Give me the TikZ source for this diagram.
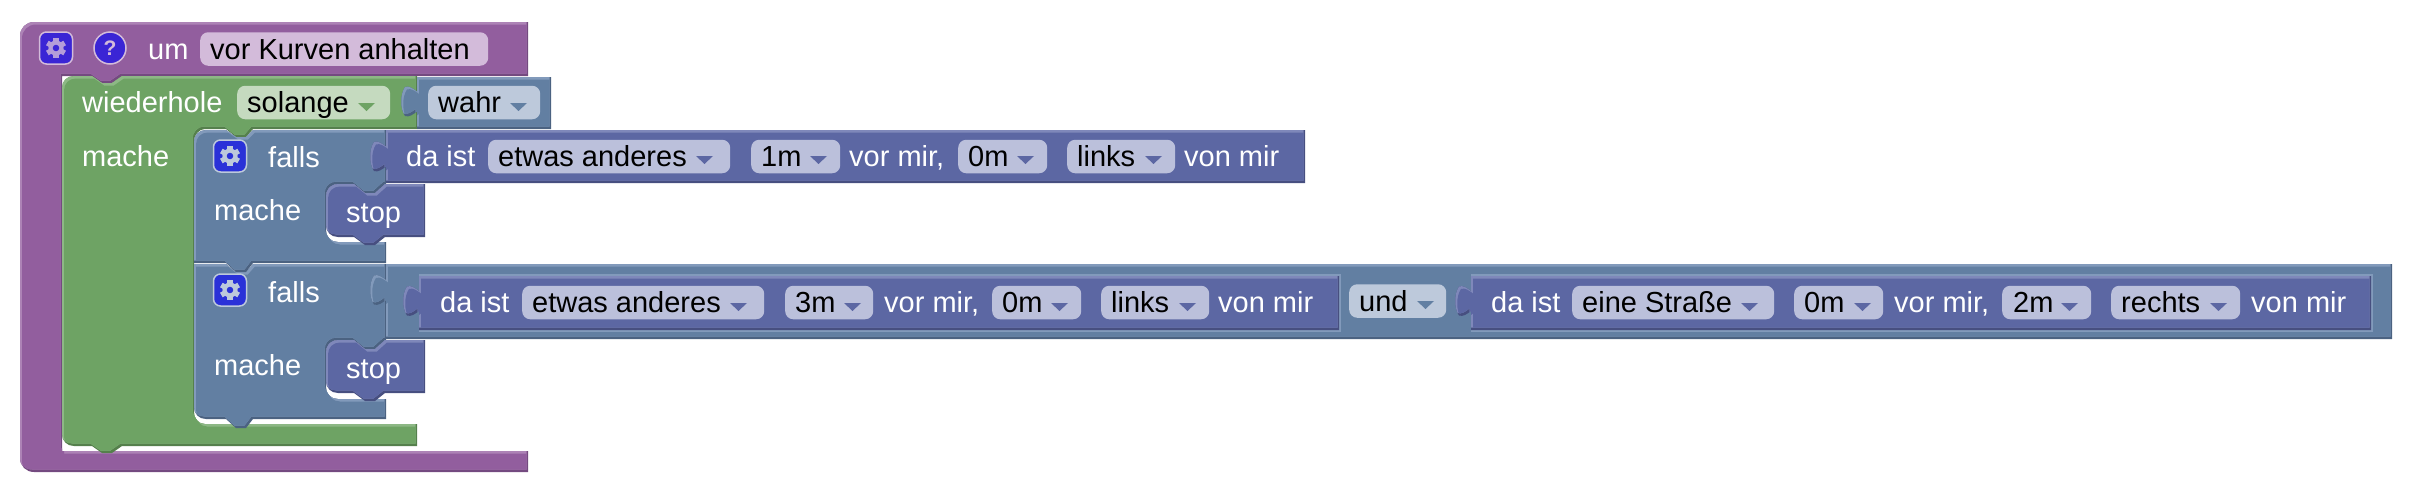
\documentclass[tikz,border=0pt]{standalone}
\usepackage{fontspec}
\setmainfont{Liberation Sans}
\usetikzlibrary{positioning}

\definecolor{purplemain}{HTML}{925E9E}
\definecolor{purplelight}{HTML}{AD83B6}
\definecolor{purpledark}{HTML}{744A80}
\definecolor{purplefield}{HTML}{D3BBDA}
\definecolor{greenmain}{HTML}{6EA364}
\definecolor{greenlight}{HTML}{8DB885}
\definecolor{greendark}{HTML}{55804C}
\definecolor{greenfield}{HTML}{C5DABF}
\definecolor{bluemain}{HTML}{627FA2}
\definecolor{bluelight}{HTML}{829ABB}
\definecolor{bluedark}{HTML}{4B6281}
\definecolor{bluefield}{HTML}{BDC9DB}
\definecolor{indigomain}{HTML}{5C67A3}
\definecolor{indigolight}{HTML}{7F88BA}
\definecolor{indigodark}{HTML}{474F80}
\definecolor{indigofield}{HTML}{BBC0DB}
\definecolor{buttonfill}{HTML}{2A31D8}
\definecolor{helpfill}{HTML}{3A25D5}

\tikzset{
    whitetext/.style={anchor=base west,inner sep=0pt,text=white,font=\fontsize{29}{34}\selectfont},
    blacktext/.style={anchor=base west,inner sep=0pt,text=black,font=\fontsize{29}{34}\selectfont},
    fieldbox/.style={anchor=west,inner sep=0pt,minimum height=33.5pt,rounded corners=8pt},
    gearbutton/.style={anchor=center,inner sep=0pt,minimum width=33pt,minimum height=32pt,rounded corners=7pt,line width=1.5pt,fill=buttonfill},
}

% fill, light upper left edge, dark lower right edge
\newcommand{\blockshape}[2]{
    \fill[#2dark] #1;
    \begin{scope}
        \clip #1;
        \begin{scope}[shift={(-1.5,-2.5)}]
            \fill[#2light] #1;
            \clip #1;
        \end{scope}
        \begin{scope}[shift={(-1.5,-2.5)}]
            \clip #1;
            \begin{scope}[shift={(3.5,5)}]
                \fill[#2main] #1;
            \end{scope}
        \end{scope}
    \end{scope}
}
\newcommand{\droparrow}[3]{\fill[#3] (#1,#2) -- ++(17,0) -- ++(-8.5,8) -- cycle;}
\newcommand{\gearicon}[3]{
    \foreach \a in {0,60,...,300}
        \fill[#3,rotate around={\a:(#1,#2)}] (#1-2.6,#2-10) rectangle (#1+2.6,#2-5);
    \fill[#3,even odd rule] (#1,#2) circle (7.6) (#1,#2) circle (3.4);
}

\begin{document}
\begin{tikzpicture}[x=1pt,y=1pt,yscale=-1,xscale=1]
    \useasboundingbox (0,0) rectangle (2410,488);

    % Purple Block
    \blockshape{(20,36) .. controls (20,28) and (26,22) .. (34,22) -- (528,22) -- (528,76) -- (122,76) -- (112,83) -- (102,83) -- (92,76) -- (62,76) -- (62,451) -- (528,451) -- (528,472) -- (34,472) .. controls (26,472) and (20,466) .. (20,458) -- cycle}{purple}
    % Green Block
    \blockshape{(62,88) .. controls (62,81) and (67,76) .. (74,76) -- (92,76) -- (102,83) -- (112,83) -- (122,76) -- (417,76) -- (417,129) -- (253,129) -- (246,137) -- (236,137) -- (226,129) -- (205,129) .. controls (199,129) and (194,135) .. (194,141) -- (194,412) .. controls (194,419) and (199,424) .. (205,424) -- (417,424) -- (417,446) -- (122,446) -- (112,453) -- (102,453) -- (92,446) -- (74,446) .. controls (67,446) and (62,441) .. (62,434) -- cycle}{green}
    % Second Falls Block
    \blockshape{(194,264) -- (226,264) -- (236,272) -- (246,272) -- (253,264) -- (386,264) -- (386,340) -- (385,340) -- (375,349) -- (365,349) -- (354,340) -- (338,340) .. controls (331,340) and (326,345) .. (326,352) -- (326,387) .. controls (326,394) and (331,399) .. (338,399) -- (386,399) -- (386,419) -- (253,419) -- (246,428) -- (236,428) -- (226,419) -- (206,419) .. controls (199,419) and (194,414) .. (194,407) -- cycle}{blue}
    % First Falls Block
    \blockshape{(194,142) .. controls (194,135) and (199,130) .. (206,130) -- (226,130) -- (236,137) -- (246,137) -- (253,130) -- (386,130) -- (386,184) -- (385,184) -- (375,193) -- (365,193) -- (354,184) -- (338,184) .. controls (331,184) and (326,189) .. (326,196) -- (326,230) .. controls (326,237) and (331,242) .. (338,242) -- (386,242) -- (386,263) -- (253,263) -- (246,272) -- (236,272) -- (226,263) -- (194,263) -- cycle}{blue}
    % Wahr Block
    \blockshape{(417,77) -- (551,77) -- (551,129) -- (417,129) -- (417,111.5) .. controls (413,114.5) and (409,117.5) .. (405,116) .. controls (400,109) and (400,94) .. (405,87) .. controls (409,85.5) and (413,88.5) .. (417,91.5) -- cycle}{blue}
    % Upper Condition Block
    \blockshape{(386,130) -- (1305,130) -- (1305,183) -- (386,183) -- (386,166.5) .. controls (382,169.5) and (378,172.5) .. (374,171) .. controls (369,164) and (369,149) .. (374,142) .. controls (378,140.5) and (382,143.5) .. (386,146.5) -- cycle}{indigo}
    % Und Block
    \blockshape{(386,264) -- (2392,264) -- (2392,339) -- (386,339) -- (386,300) .. controls (382,303) and (378,306) .. (374,304.5) .. controls (369,297.5) and (369,282.5) .. (374,275.5) .. controls (378,274) and (382,277) .. (386,280) -- cycle}{blue}
    % Left Condition Block
    \draw[bluelight,line width=2pt] (419,275) -- (1340,275) -- (1340,331) -- (419,331);
    \blockshape{(419,276) -- (1339,276) -- (1339,330) -- (419,330) -- (419,311) .. controls (415,314) and (411,317) .. (407,315.5) .. controls (402,308.5) and (402,293.5) .. (407,286.5) .. controls (411,285) and (415,288) .. (419,291) -- cycle}{indigo}
    % Right Condition Block
    \draw[bluelight,line width=2pt] (1471,275) -- (2372,275) -- (2372,331) -- (1471,331);
    \blockshape{(1471,276) -- (2371,276) -- (2371,330) -- (1471,330) -- (1471,311) .. controls (1467,314) and (1463,317) .. (1459,315.5) .. controls (1454,308.5) and (1454,293.5) .. (1459,286.5) .. controls (1463,285) and (1467,288) .. (1471,291) -- cycle}{indigo}
    % Stop Blocks
    \blockshape{(326,196) .. controls (326,189) and (331,184) .. (338,184) -- (354,184) -- (365,193) -- (375,193) -- (385,184) -- (425,184) -- (425,237) -- (385,237) -- (375,245) -- (365,245) -- (354,237) -- (338,237) .. controls (331,237) and (326,232) .. (326,225) -- cycle}{indigo}
    \blockshape{(326,352) .. controls (326,345) and (331,340) .. (338,340) -- (354,340) -- (365,349) -- (375,349) -- (385,340) -- (425,340) -- (425,393) -- (385,393) -- (375,401) -- (365,401) -- (354,393) -- (338,393) .. controls (331,393) and (326,388) .. (326,381) -- cycle}{indigo}

    % Buttons
    \node[gearbutton,draw=purplefield,fill=helpfill] (gearum) at (56,48) {};
    \gearicon{56}{48}{purplefield!80!helpfill}
    \node[circle,inner sep=0pt,minimum size=32pt,line width=1.5pt,draw=purplefield,fill=helpfill,text=purplefield,font=\fontsize{21}{21}\selectfont\bfseries] (helpum) at (110,48) {?};
    \node[gearbutton,draw=bluefield] (gearone) at (230,156) {};
    \gearicon{230}{156}{bluefield}
    \node[gearbutton,draw=bluefield] (geartwo) at (230,290) {};
    \gearicon{230}{290}{bluefield}

    % Field Boxes
    \node[fieldbox,fill=purplefield,minimum width=288pt] (nameum) at (200,49) {};
    \node[fieldbox,fill=greenfield,minimum width=153pt] (modeloop) at (237,102.5) {};
    \node[fieldbox,fill=bluefield,minimum width=112pt] (truebool) at (428,102.5) {};
    \node[fieldbox,fill=indigofield,minimum width=242pt] (kindone) at (488,156.5) {};
    \node[fieldbox,fill=indigofield,minimum width=89pt] (aheadone) at (751,156.5) {};
    \node[fieldbox,fill=indigofield,minimum width=89pt] (sideone) at (958,156.5) {};
    \node[fieldbox,fill=indigofield,minimum width=108pt] (dirone) at (1067,156.5) {};
    \node[fieldbox,fill=indigofield,minimum width=242pt] (kindtwo) at (522,302.5) {};
    \node[fieldbox,fill=indigofield,minimum width=88pt] (aheadtwo) at (785,302.5) {};
    \node[fieldbox,fill=indigofield,minimum width=89pt] (sidetwo) at (992,302.5) {};
    \node[fieldbox,fill=indigofield,minimum width=108pt] (dirtwo) at (1101,302.5) {};
    \node[fieldbox,fill=bluefield,minimum width=97pt] (andbool) at (1349,301) {};
    \node[fieldbox,fill=indigofield,minimum width=202pt] (kindthree) at (1572,302.5) {};
    \node[fieldbox,fill=indigofield,minimum width=89pt] (aheadthree) at (1794,302.5) {};
    \node[fieldbox,fill=indigofield,minimum width=89pt] (sidethree) at (2002,302.5) {};
    \node[fieldbox,fill=indigofield,minimum width=129pt] (dirthree) at (2111,302.5) {};

    % Field Arrows
    \droparrow{358}{103}{greenmain}
    \droparrow{510}{103}{bluemain}
    \droparrow{696}{156}{indigomain}
    \droparrow{810}{156}{indigomain}
    \droparrow{1017}{156}{indigomain}
    \droparrow{1145}{156}{indigomain}
    \droparrow{730}{303}{indigomain}
    \droparrow{844}{303}{indigomain}
    \droparrow{1051}{303}{indigomain}
    \droparrow{1179}{303}{indigomain}
    \droparrow{1417}{301}{bluemain}
    \droparrow{1741}{303}{indigomain}
    \droparrow{1854}{303}{indigomain}
    \droparrow{2061}{303}{indigomain}
    \droparrow{2210}{303}{indigomain}

    % Text Node
    \node[whitetext] (um) at (148,59) {um};
    \node[blacktext] (nametext) at (210,59) {vor Kurven anhalten};
    % Text Node
    \node[whitetext] (wiederhole) at (82,112.5) {wiederhole};
    \node[blacktext] (solange) at (247,112.5) {solange};
    \node[blacktext] (wahr) at (438,112.5) {wahr};
    \node[whitetext] (macheloop) at (82,166) {mache};
    % Text Node
    \node[whitetext] (fallsone) at (268,167) {falls};
    \node[whitetext] (machethen) at (214,220) {mache};
    \node[whitetext] (stopone) at (346,222) {stop};
    \node[whitetext] (daistone) at (406,166.5) {da ist};
    \node[blacktext] (kindonetext) at (498,166.5) {etwas anderes};
    \node[blacktext] (aheadonetext) at (761,166.5) {1m};
    \node[whitetext] (vorone) at (849,166.5) {vor mir,};
    \node[blacktext] (sideonetext) at (968,166.5) {0m};
    \node[blacktext] (dironetext) at (1077,166.5) {links};
    \node[whitetext] (vonone) at (1184,166.5) {von mir};
    % Text Node
    \node[whitetext] (fallstwo) at (268,302) {falls};
    \node[whitetext] (machetwo) at (214,375) {mache};
    \node[whitetext] (stoptwo) at (346,378) {stop};
    \node[whitetext] (daisttwo) at (440,312.5) {da ist};
    \node[blacktext] (kindtwotext) at (532,312.5) {etwas anderes};
    \node[blacktext] (aheadtwotext) at (795,312.5) {3m};
    \node[whitetext] (vortwo) at (884,312.5) {vor mir,};
    \node[blacktext] (sidetwotext) at (1002,312.5) {0m};
    \node[blacktext] (dirtwotext) at (1111,312.5) {links};
    \node[whitetext] (vontwo) at (1218,312.5) {von mir};
    \node[blacktext] (und) at (1359,311) {und};
    % Text Node
    \node[whitetext] (daistthree) at (1491,312.5) {da ist};
    \node[blacktext] (kindthreetext) at (1582,312.5) {eine Straße};
    \node[blacktext] (aheadthreetext) at (1804,312.5) {0m};
    \node[whitetext] (vorthree) at (1894,312.5) {vor mir,};
    \node[blacktext] (sidethreetext) at (2013,312.5) {2m};
    \node[blacktext] (dirthreetext) at (2121,312.5) {rechts};
    \node[whitetext] (vonthree) at (2251,312.5) {von mir};

\end{tikzpicture}
\end{document}
